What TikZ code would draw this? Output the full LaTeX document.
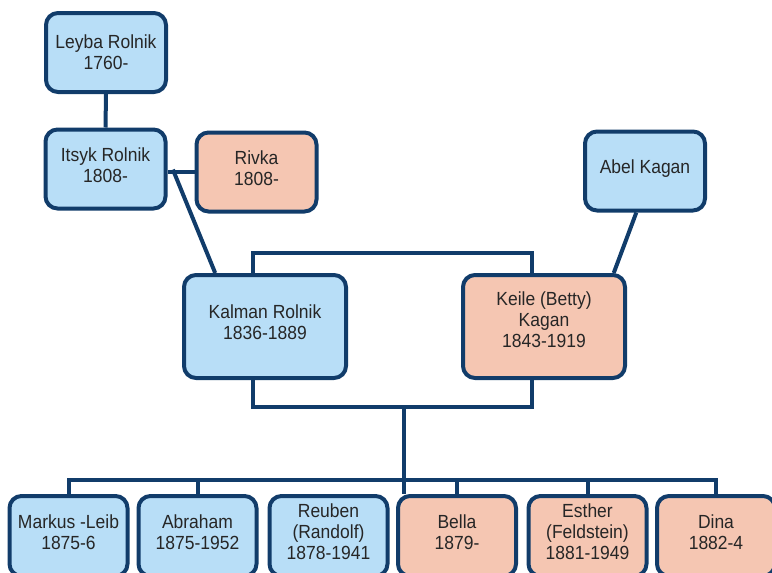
\documentclass[tikz,border=0pt]{standalone}
\usepackage{fontspec}
\setmainfont[FakeStretch = 0.92]{Liberation Sans}
\usepackage{tikz}
\usetikzlibrary{calc}

\definecolor{boyfill}{RGB}{184,222,247}
\definecolor{girlfill}{RGB}{245,198,178}
\definecolor{treeblue}{RGB}{17,60,106}

\tikzset{
  person/.style = {draw = treeblue, line width = 4pt, rounded corners = 12pt, align = center,
                   text = black!85, font = \fontsize{19}{21}\selectfont, inner sep = 0pt, text depth = 8pt},
  man/.style = {person, fill = boyfill},
  woman/.style = {person, fill = girlfill},
  small/.style = {minimum width = 120pt, minimum height = 79pt},
  big/.style = {minimum width = 162pt, minimum height = 103pt},
  kid/.style = {minimum width = 118pt, minimum height = 80pt},
  link/.style = {draw = treeblue, line width = 4pt},
}

\begin{document}
\begin{tikzpicture}[x = 1pt, y = -1pt]
\useasboundingbox (0,0) rectangle (772,573);
\clip (0,0) rectangle (772,573);

\node[man, small, text depth = 0pt] (leyba) at (106,52.5) {Leyba Rolnik\\1760-};
\node[man, small] (itsyk) at (105.5,169) {Itsyk Rolnik\\1808-};
\node[woman, small] (rivka) at (256.5,172) {Rivka\\1808-};
\node[man, small] (abel) at (645,171) {Abel Kagan};
\node[man, big] (kalman) at (265,326.5) {Kalman Rolnik\\1836-1889};
\node[woman, big, text depth = 14pt] (keile) at (544,326.5) {Keile (Betty)\\Kagan\\1843-1919};

\node[man, kid] (markus) at (68.5,536) {Markus -Leib\\1875-6};
\node[man, kid] (abraham) at (197.5,536) {Abraham\\1875-1952};
\node[man, kid] (reuben) at (328.5,536) {Reuben\\(Randolf)\\1878-1941};
\node[woman, kid] (bella) at (457,536) {Bella\\1879-};
\node[woman, kid] (esther) at (587.5,536) {Esther\\(Feldstein)\\1881-1949};
\node[woman, kid] (dina) at (716,536) {Dina\\1882-4};

\draw[link] (leyba.south) -- (itsyk.north);
\draw[link] (rivka.west) -- (rivka.west -| itsyk.east);
\draw[link] ($(itsyk.east)!0.2!(rivka.west)$) -- ($(kalman.north west)!0.2!(kalman.north east)$);
\draw[link] ($(abel.south west)!0.43!(abel.south east)$) -- ($(keile.north west)!0.92!(keile.north east)$);

% marriage
\draw[link] ($(kalman.north west)!0.43!(kalman.north east)$) -- ++(0,-20) -| ($(keile.north west)!0.43!(keile.north east)$);
\draw[link] ($(kalman.south west)!0.43!(kalman.south east)$) -- ++(0,27) -| ($(keile.south west)!0.43!(keile.south east)$);
\coordinate (family) at (404,405);
\draw[link] (family) -- (family |- bella.north);

% children
\draw[link] (markus.north) -- ++(0,-14) -| (dina.north);
\foreach \k in {abraham, bella, esther}
  \draw[link] (\k.north) -- ++(0,-14);

\end{tikzpicture}
\end{document}
